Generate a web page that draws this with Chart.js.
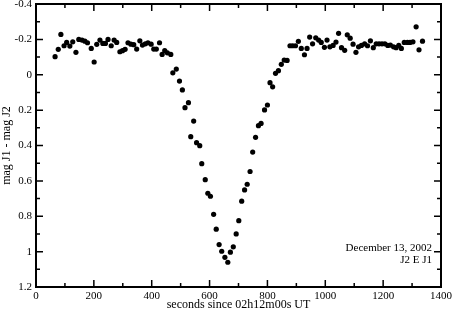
<!DOCTYPE html>
<html>
<head>
<meta charset="utf-8">
<title>J2 E J1 — December 13, 2002</title>
<script src="https://cdn.jsdelivr.net/npm/chart.js@4/dist/chart.umd.min.js"></script>
<style>
    html, body { margin: 0; padding: 0; background: #fff; }
    canvas { display: block; }
</style>
</head>
<body>
<canvas id="lightCurve" width="453" height="312"></canvas>
<script>
// ── Data ─────────────────────────────────────────────────────
const seconds = [
    66, 77, 86, 97, 106, 117, 127, 138, 148, 159,
    169, 178, 191, 201, 210, 221, 231, 240, 249, 260,
    270, 279, 290, 299, 308, 318, 328, 338, 348, 359,
    368, 378, 387, 398, 407, 416, 427, 436, 445, 454,
    466, 473, 485, 496, 506, 515, 527, 535, 545, 555,
    566, 573, 585, 594, 603, 614, 623, 633, 642, 653,
    663, 672, 682, 692, 701, 711, 721, 730, 740, 749,
    759, 769, 778, 790, 800, 809, 818, 828, 838, 848,
    858, 868, 878, 887, 897, 907, 917, 928, 937, 946,
    956, 967, 977, 986, 997, 1006, 1016, 1027, 1037, 1046,
    1056, 1067, 1076, 1086, 1096, 1106, 1115, 1125, 1136, 1146,
    1156, 1166, 1176, 1186, 1196, 1206, 1216, 1225, 1236, 1245,
    1254, 1263, 1273, 1284, 1293, 1303, 1314, 1324, 1336,
];

const magDiff = [
    -0.102, -0.144, -0.228, -0.164, -0.183, -0.162, -0.186, -0.127, -0.200, -0.196,
    -0.190, -0.181, -0.149, -0.072, -0.172, -0.196, -0.177, -0.177, -0.200, -0.164,
    -0.196, -0.183, -0.130, -0.136, -0.144, -0.181, -0.173, -0.170, -0.145, -0.192,
    -0.168, -0.175, -0.181, -0.173, -0.145, -0.145, -0.181, -0.115, -0.136, -0.124,
    -0.115, -0.011, -0.032, 0.036, 0.086, 0.186, 0.158, 0.350, 0.262, 0.384,
    0.401, 0.503, 0.593, 0.670, 0.687, 0.789, 0.873, 0.960, 0.998, 1.032,
    1.060, 1.003, 0.973, 0.900, 0.825, 0.715, 0.651, 0.619, 0.547, 0.437,
    0.354, 0.288, 0.275, 0.199, 0.171, 0.045, 0.068, -0.008, -0.023, -0.059,
    -0.083, -0.081, -0.164, -0.164, -0.164, -0.189, -0.149, -0.113, -0.149, -0.213,
    -0.175, -0.209, -0.196, -0.183, -0.155, -0.196, -0.158, -0.166, -0.185, -0.234,
    -0.153, -0.138, -0.226, -0.207, -0.173, -0.127, -0.158, -0.166, -0.175, -0.164,
    -0.192, -0.153, -0.175, -0.175, -0.175, -0.175, -0.166, -0.168, -0.158, -0.153,
    -0.166, -0.149, -0.183, -0.183, -0.183, -0.186, -0.271, -0.141, -0.190,
];

const xTicks = [0, 200, 400, 600, 800, 1000, 1200, 1400];
const xMinorTicks = [100, 300, 500, 700, 900, 1100, 1300];
const yTicks = [-0.4, -0.2, 0, 0.2, 0.4, 0.6, 0.8, 1, 1.2];
const yTickLabels = ["-0.4", "-0.2", "0", "0.2", "0.4", "0.6", "0.8", "1", "1.2"];
const yMinorTicks = [-0.3, -0.1, 0.1, 0.3, 0.5, 0.7, 0.9, 1.1];

const xTitle = "seconds since 02h12m00s UT";
const yTitle = "mag J1 - mag J2";
const notes = ["December 13, 2002", "J2 E J1"];

// ── Frame, inward ticks and notes ────────────────────────────
const frameTicks = {
    id: "frameTicks",
    afterDraw(chart) {
        const { ctx, chartArea: a, scales } = chart;
        const sx = scales.x, sy = scales.y;
        ctx.save();
        ctx.strokeStyle = "#000";

        ctx.lineWidth = 1.5;
        ctx.beginPath();
        const vTick = (v, len) => {
            const px = sx.getPixelForValue(v);
            ctx.moveTo(px, a.bottom); ctx.lineTo(px, a.bottom - len);
            ctx.moveTo(px, a.top); ctx.lineTo(px, a.top + len);
        };
        const hTick = (v, len) => {
            const py = sy.getPixelForValue(v);
            ctx.moveTo(a.left, py); ctx.lineTo(a.left + len, py);
            ctx.moveTo(a.right, py); ctx.lineTo(a.right - len, py);
        };
        xTicks.forEach(v => vTick(v, 7));
        xMinorTicks.forEach(v => vTick(v, 4));
        yTicks.forEach(v => hTick(v, 7));
        yMinorTicks.forEach(v => hTick(v, 4));
        ctx.stroke();

        ctx.lineWidth = 2;
        ctx.strokeRect(a.left, a.top, a.right - a.left, a.bottom - a.top);

        ctx.fillStyle = "#000";
        ctx.font = "11px 'Liberation Serif'";
        ctx.textAlign = "right";
        ctx.textBaseline = "middle";
        ctx.fillText(notes[0], a.right - 9, a.bottom - 39);
        ctx.fillText(notes[1], a.right - 9, a.bottom - 27);
        ctx.restore();
    },
};

const whiteBg = {
    id: "whiteBg",
    beforeDraw(chart) {
        const ctx = chart.ctx;
        ctx.save();
        ctx.fillStyle = "#fff";
        ctx.fillRect(0, 0, chart.width, chart.height);
        ctx.restore();
    },
};

// ── Chart ────────────────────────────────────────────────────
const tickFont = { family: "'Liberation Serif'", size: 11 };
const titleFont = { family: "'Liberation Serif'", size: 12 };

new Chart(document.getElementById("lightCurve"), {
    type: "scatter",
    data: {
        datasets: [{
            data: seconds.map((s, i) => ({ x: s, y: magDiff[i] })),
            backgroundColor: "#000",
            borderWidth: 0,
            pointRadius: 2.6,
        }],
    },
    options: {
        responsive: false,
        animation: false,
        events: [],
        layout: { padding: { top: 4, right: 12, left: 0, bottom: 0 } },
        plugins: {
            legend: { display: false },
            tooltip: { enabled: false },
        },
        scales: {
            x: {
                type: "linear",
                min: 0,
                max: 1400,
                grid: { display: false, drawTicks: false },
                border: { display: false },
                afterBuildTicks: s => { s.ticks = xTicks.map(v => ({ value: v })); },
                ticks: {
                    color: "#000",
                    font: tickFont,
                    padding: 3,
                    maxRotation: 0,
                    callback: v => String(v),
                },
                title: {
                    display: true,
                    text: xTitle,
                    color: "#000",
                    font: titleFont,
                    padding: 0,
                },
                afterFit: s => {
                    s.height = 25;
                    s.paddingLeft = 0;
                    s.paddingRight = 0;
                },
            },
            y: {
                type: "linear",
                min: -0.4,
                max: 1.2,
                reverse: true,
                grid: { display: false, drawTicks: false },
                border: { display: false },
                afterBuildTicks: s => { s.ticks = yTicks.map(v => ({ value: v })); },
                ticks: {
                    color: "#000",
                    font: tickFont,
                    padding: 4,
                    callback: (v, i) => yTickLabels[i],
                },
                title: {
                    display: true,
                    text: yTitle,
                    color: "#000",
                    font: titleFont,
                    padding: 0,
                },
                afterFit: s => {
                    s.width = 36;
                    s.paddingTop = 0;
                    s.paddingBottom = 0;
                },
            },
        },
    },
    plugins: [whiteBg, frameTicks],
});
</script>
</body>
</html>
